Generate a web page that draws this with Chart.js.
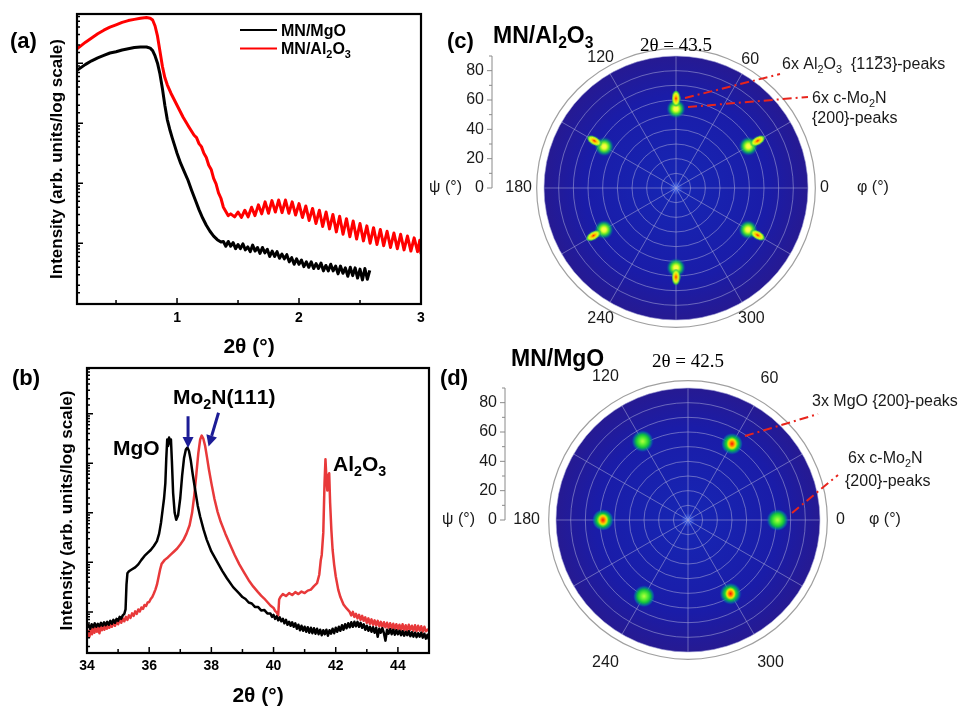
<!DOCTYPE html>
<html>
<head>
<meta charset="utf-8">
<title>MN films: XRR, XRD and pole figures</title>
<script src="https://cdn.jsdelivr.net/npm/chart.js"></script>
<style>
  html, body { margin: 0; padding: 0; background: #fff; }
  #page { position: relative; width: 965px; height: 707px; overflow: hidden; background: #fff; }
  #page canvas { position: absolute; }
</style>
</head>
<body>
<div id="page">
  <canvas id="xrrChart" width="440" height="370" style="left:0;top:0"></canvas>
  <canvas id="xrdChart" width="440" height="357" style="left:0;top:350px"></canvas>
  <canvas id="poleAl" width="545" height="350" style="left:420px;top:0"></canvas>
  <canvas id="poleMg" width="545" height="377" style="left:420px;top:330px"></canvas>
</div>
<script>
const FONT = '"Liberation Sans", Arial, Helvetica, sans-serif';
const SERIF = '"Liberation Serif", "Times New Roman", Times, serif';
Chart.defaults.font.family = FONT;
Chart.defaults.color = '#000';

// (a) reflectivity, 2theta in deg, intensity as log10
const xrrMgoX = [
  0.18,0.25,0.30,0.35,0.40,0.45,0.50,0.55,0.60,0.65,
  0.70,0.75,0.78,0.80,0.82,0.84,0.86,0.88,0.90,0.92,
  0.94,0.96,0.98,1.00,1.03,1.06,1.09,1.12,1.15,1.18,
  1.21,1.24,1.27,1.30,1.33,1.36,1.38,1.40,1.42,1.44,
  1.46,1.48,1.50,1.52,1.54,1.56,1.58,1.60,1.62,1.64,
  1.66,1.68,1.70,1.72,1.74,1.76,1.78,1.80,1.82,1.84,
  1.86,1.88,1.90,1.92,1.94,1.96,1.98,2.00,2.02,2.04,
  2.06,2.08,2.10,2.12,2.14,2.16,2.18,2.20,2.22,2.24,
  2.26,2.28,2.30,2.32,2.34,2.36,2.38,2.40,2.42,2.44,
  2.46,2.48,2.50,2.52,2.54,2.56,2.58
];
const xrrMgoLogI = [
  3.88,3.98,4.04,4.09,4.13,4.17,4.19,4.22,4.24,4.26,
  4.27,4.27,4.25,4.21,4.12,4.00,3.82,3.58,3.30,3.06,
  2.90,2.76,2.63,2.50,2.33,2.19,2.05,1.88,1.72,1.56,
  1.42,1.30,1.20,1.12,1.06,1.02,1.03,0.95,1.03,0.95,
  1.01,0.91,0.98,0.91,0.99,0.89,0.94,0.86,0.97,0.87,
  0.93,0.83,0.93,0.84,0.90,0.78,0.87,0.78,0.86,0.75,
  0.82,0.74,0.81,0.69,0.76,0.65,0.74,0.65,0.72,0.61,
  0.69,0.60,0.69,0.58,0.66,0.58,0.67,0.54,0.63,0.54,
  0.65,0.54,0.62,0.49,0.62,0.50,0.59,0.45,0.60,0.46,
  0.59,0.42,0.57,0.39,0.58,0.40,0.55
];
const xrrAlX = [
  0.18,0.25,0.30,0.35,0.40,0.45,0.50,0.55,0.60,0.65,
  0.70,0.75,0.78,0.80,0.82,0.84,0.86,0.88,0.90,0.92,
  0.95,1.00,1.05,1.10,1.14,1.16,1.18,1.20,1.22,1.24,
  1.26,1.28,1.30,1.32,1.34,1.36,1.38,1.40,1.42,1.44,
  1.472,1.500,1.528,1.556,1.583,1.611,1.639,1.667,1.694,1.722,
  1.750,1.778,1.806,1.833,1.861,1.889,1.917,1.944,1.972,2.000,
  2.028,2.056,2.083,2.111,2.139,2.167,2.194,2.222,2.250,2.278,
  2.306,2.333,2.361,2.389,2.417,2.444,2.472,2.500,2.528,2.556,
  2.583,2.611,2.639,2.667,2.694,2.722,2.750,2.778,2.806,2.833,
  2.861,2.889,2.917,2.944,2.972,2.990,3.000
];
const xrrAlLogI = [
  4.24,4.35,4.42,4.49,4.55,4.60,4.64,4.68,4.71,4.73,
  4.75,4.76,4.75,4.72,4.62,4.45,4.20,3.95,3.76,3.64,
  3.50,3.30,3.10,2.93,2.80,2.76,2.66,2.61,2.50,2.43,
  2.30,2.23,2.08,1.99,1.84,1.75,1.60,1.53,1.46,1.49,
  1.44,1.52,1.43,1.55,1.44,1.60,1.46,1.64,1.49,1.69,
  1.50,1.71,1.52,1.72,1.51,1.72,1.50,1.69,1.47,1.66,
  1.43,1.62,1.38,1.58,1.33,1.55,1.28,1.52,1.24,1.48,
  1.19,1.45,1.15,1.41,1.11,1.37,1.07,1.33,1.04,1.29,
  1.00,1.26,0.98,1.23,0.96,1.20,0.93,1.17,0.91,1.15,
  0.89,1.12,0.87,1.09,0.86,1.05,0.82
];

// (b) theta-2theta scans, log10 intensity
const xrdMgoX = [
  34.00,34.05,34.10,34.15,34.20,34.25,34.30,34.35,34.40,34.45,
  34.50,34.55,34.60,34.65,34.70,34.75,34.80,34.85,34.90,34.95,
  35.00,35.05,35.10,35.15,35.20,35.24,35.27,35.30,35.35,35.45,
  35.55,35.65,35.75,35.85,35.95,36.05,36.15,36.25,36.32,36.38,
  36.43,36.48,36.52,36.55,36.58,36.61,36.64,36.67,36.70,36.73,
  36.77,36.82,36.87,36.93,37.00,37.06,37.12,37.18,37.23,37.28,
  37.34,37.40,37.48,37.56,37.64,37.75,37.85,38.00,38.17,38.35,
  38.50,38.70,38.90,39.00,39.10,39.20,39.30,39.40,39.50,39.60,
  39.70,39.80,39.90,39.95,40.00,40.05,40.10,40.15,40.20,40.25,
  40.30,40.35,40.40,40.45,40.50,40.55,40.60,40.65,40.70,40.75,
  40.80,40.85,40.90,40.95,41.00,41.05,41.10,41.15,41.20,41.25,
  41.30,41.35,41.40,41.45,41.50,41.55,41.60,41.65,41.70,41.75,
  41.80,41.85,41.90,41.95,42.00,42.05,42.10,42.15,42.20,42.25,
  42.30,42.35,42.40,42.45,42.50,42.55,42.60,42.65,42.70,42.75,
  42.80,42.85,42.90,42.95,43.00,43.05,43.10,43.15,43.20,43.25,
  43.30,43.35,43.40,43.45,43.50,43.55,43.60,43.65,43.70,43.75,
  43.80,43.85,43.90,43.95,44.00,44.05,44.10,44.15,44.20,44.25,
  44.30,44.35,44.40,44.45,44.50,44.55,44.60,44.65,44.70,44.75,
  44.80,44.85,44.90,44.95,45.00
];
const xrdMgoLogI = [
  0.68,0.74,0.66,0.75,0.69,0.77,0.70,0.76,0.71,0.78,
  0.72,0.79,0.73,0.80,0.74,0.82,0.76,0.84,0.78,0.86,
  0.82,0.90,0.86,0.93,0.96,1.05,1.55,1.78,1.82,1.86,
  1.90,1.96,2.05,2.13,2.19,2.25,2.33,2.43,2.58,2.80,
  3.05,3.30,3.60,4.10,4.48,4.35,4.52,4.40,4.48,4.05,
  3.40,3.00,2.86,2.95,3.30,3.75,4.10,4.28,4.32,4.25,
  4.05,3.78,3.46,3.15,2.92,2.66,2.46,2.22,2.03,1.83,
  1.68,1.50,1.37,1.30,1.26,1.19,1.17,1.10,1.10,1.03,
  1.04,0.97,0.97,0.90,0.94,0.86,0.91,0.83,0.89,0.81,
  0.86,0.77,0.84,0.74,0.80,0.72,0.79,0.70,0.77,0.66,
  0.74,0.63,0.72,0.62,0.70,0.60,0.69,0.58,0.68,0.57,
  0.67,0.56,0.66,0.55,0.64,0.53,0.63,0.55,0.64,0.52,
  0.63,0.56,0.66,0.57,0.68,0.60,0.70,0.62,0.73,0.64,
  0.75,0.67,0.77,0.69,0.79,0.70,0.80,0.71,0.80,0.70,
  0.78,0.68,0.75,0.64,0.72,0.62,0.70,0.60,0.69,0.58,
  0.68,0.50,0.66,0.58,0.67,0.57,0.42,0.64,0.56,0.65,
  0.55,0.64,0.54,0.63,0.55,0.62,0.53,0.61,0.52,0.60,
  0.53,0.61,0.51,0.59,0.50,0.58,0.49,0.57,0.50,0.58,
  0.48,0.56,0.46,0.54,0.44
];
const xrdAlX = [
  34.00,34.04,34.08,34.12,34.16,34.20,34.24,34.28,34.32,34.36,
  34.40,34.44,34.48,34.52,34.56,34.60,34.64,34.68,34.72,34.76,
  34.80,34.85,34.90,34.95,35.00,35.05,35.10,35.15,35.20,35.25,
  35.30,35.35,35.40,35.45,35.50,35.55,35.60,35.65,35.70,35.75,
  35.80,35.85,35.90,35.95,36.00,36.05,36.10,36.15,36.20,36.25,
  36.30,36.35,36.40,36.50,36.60,36.70,36.80,36.90,37.00,37.10,
  37.20,37.30,37.38,37.45,37.52,37.58,37.64,37.69,37.74,37.80,
  37.86,37.92,38.00,38.10,38.20,38.30,38.45,38.60,38.75,38.90,
  39.05,39.20,39.35,39.50,39.60,39.70,39.80,39.90,40.00,40.05,
  40.10,40.15,40.18,40.22,40.30,40.40,40.50,40.60,40.70,40.80,
  40.90,41.00,41.10,41.20,41.30,41.40,41.47,41.52,41.55,41.60,
  41.64,41.67,41.70,41.73,41.76,41.79,41.82,41.86,41.90,41.95,
  42.00,42.08,42.15,42.25,42.35,42.45,42.50,42.55,42.60,42.65,
  42.70,42.75,42.80,42.85,42.90,42.95,43.00,43.05,43.10,43.15,
  43.20,43.25,43.30,43.35,43.40,43.45,43.50,43.55,43.60,43.65,
  43.70,43.75,43.80,43.85,43.90,43.95,44.00,44.05,44.10,44.15,
  44.20,44.25,44.30,44.35,44.40,44.45,44.50,44.55,44.60,44.65,
  44.70,44.75,44.80,44.85,44.90,45.00
];
const xrdAlLogI = [
  0.48,0.62,0.50,0.66,0.55,0.68,0.58,0.70,0.60,0.69,
  0.57,0.71,0.63,0.73,0.64,0.75,0.66,0.76,0.68,0.78,
  0.70,0.80,0.72,0.82,0.75,0.85,0.78,0.87,0.81,0.90,
  0.84,0.93,0.88,0.97,0.92,1.01,0.96,1.05,1.01,1.09,
  1.06,1.14,1.12,1.19,1.20,1.26,1.30,1.37,1.45,1.55,
  1.70,1.85,1.97,2.05,2.10,2.16,2.22,2.28,2.36,2.45,
  2.58,2.75,3.00,3.35,3.80,4.20,4.48,4.56,4.50,4.35,
  4.12,3.88,3.60,3.28,3.02,2.82,2.58,2.36,2.15,1.96,
  1.80,1.64,1.51,1.40,1.33,1.27,1.20,1.13,1.08,1.02,
  0.99,0.93,1.25,1.30,1.36,1.32,1.38,1.34,1.40,1.36,
  1.41,1.38,1.43,1.45,1.52,1.58,1.75,2.05,2.15,2.60,
  3.60,4.08,3.70,3.45,3.75,3.80,3.20,2.65,2.25,1.95,
  1.72,1.45,1.30,1.15,1.07,1.00,0.93,1.00,0.90,0.96,
  0.87,0.94,0.84,0.92,0.82,0.89,0.78,0.87,0.76,0.85,
  0.74,0.83,0.73,0.82,0.71,0.80,0.70,0.79,0.69,0.78,
  0.68,0.77,0.67,0.76,0.66,0.75,0.65,0.74,0.64,0.75,
  0.63,0.73,0.62,0.74,0.64,0.72,0.62,0.73,0.61,0.72,
  0.62,0.71,0.60,0.70,0.61,0.66
];

// (c), (d) pole figures: phi around, psi out from the centre
const phiLabels = [0, 330, 300, 270, 240, 210, 180, 150, 120, 90, 60, 30];
const phiTickLabels = [0, 60, 120, 180, 240, 300];
const psiTickLabels = [0, 20, 40, 60, 80];
const alMo2nPhi = [30, 90, 150, 210, 270, 330];
const alMo2nPsi = [57, 54, 56.5, 56.7, 54.3, 56.7];
const alSapphirePhi = [30, 90, 150, 210, 270, 330];
const alSapphirePsi = [64.3, 61, 64.3, 65, 60.7, 64.3];
const mgMo2nPhi = [0, 60, 120, 180, 240, 300];
const mgMo2nPsi = [61, 60, 62, 58, 60, 58];
const mgMgoPhi = [60, 180, 300];
const mgMgoPsi = [60, 58, 58];

const xrdArrows = [
  { from: [37.25, 4.95], to: [37.25, 4.31] },
  { from: [38.23, 5.02], to: [37.91, 4.34] }
];

function toPoints(xs, logs) {
  return xs.map((x, i) => ({ x: x, y: Math.pow(10, logs[i]) }));
}

// digits right after a letter become subscripts, '¯' puts a bar over the next char
function drawRich(ctx, text, x, y, size, weight, family) {
  let cx = x, bar = false;
  for (let i = 0; i < text.length; i++) {
    const ch = text[i];
    if (ch === '¯') { bar = true; continue; }
    const sub = /[0-9]/.test(ch) && i > 0 && /[A-Za-z]/.test(text[i - 1]);
    const fs = sub ? size * 0.68 : size;
    ctx.font = weight + ' ' + fs + 'px ' + family;
    ctx.fillText(ch, cx, y + (sub ? size * 0.22 : 0));
    const w = ctx.measureText(ch).width;
    if (bar) {
      ctx.fillRect(cx + 1, y - size * 0.8, w - 2, Math.max(1, size * 0.07));
      bar = false;
    }
    cx += w;
  }
  return cx - x;
}

function drawArrow(ctx, x0, y0, x1, y1) {
  const a = Math.atan2(y1 - y0, x1 - x0), head = 11, half = 5.5;
  const bx = x1 - head * Math.cos(a), by = y1 - head * Math.sin(a);
  ctx.beginPath(); ctx.moveTo(x0, y0); ctx.lineTo(bx, by); ctx.stroke();
  ctx.beginPath();
  ctx.moveTo(x1, y1);
  ctx.lineTo(bx + half * Math.sin(a), by - half * Math.cos(a));
  ctx.lineTo(bx - half * Math.sin(a), by + half * Math.cos(a));
  ctx.closePath(); ctx.fill();
}

function leader(ctx, x0, y0, x1, y1) {
  ctx.save();
  ctx.strokeStyle = '#e8241c';
  ctx.lineWidth = 2;
  ctx.setLineDash([9, 4, 2, 4]);
  ctx.beginPath(); ctx.moveTo(x0, y0); ctx.lineTo(x1, y1); ctx.stroke();
  ctx.restore();
}

// box frame plus inward ticks like the original plotting program
const frameTicks = {
  id: 'frameTicks',
  afterDatasetsDraw(chart, args, opts) {
    const { ctx, chartArea: a, scales: { x, y } } = chart;
    const step = opts.majorStep || 1;
    ctx.save();
    ctx.strokeStyle = '#000';
    ctx.lineWidth = 1.5;
    ctx.beginPath();
    x.ticks.forEach(t => {
      if (t.value <= x.min || t.value >= x.max) return;
      const px = x.getPixelForValue(t.value);
      const major = Math.abs(t.value / step - Math.round(t.value / step)) < 1e-6;
      ctx.moveTo(px, a.bottom); ctx.lineTo(px, a.bottom - (major ? 6 : 4));
    });
    y.ticks.forEach(t => {
      if (t.value <= y.min || t.value >= y.max) return;
      const py = y.getPixelForValue(t.value);
      const lg = Math.log10(t.value);
      const major = Math.abs(lg - Math.round(lg)) < 1e-6;
      ctx.moveTo(a.left, py); ctx.lineTo(a.left + (major ? 6 : 3), py);
    });
    ctx.stroke();
    ctx.lineWidth = 2.2;
    ctx.strokeRect(a.left, a.top, a.right - a.left, a.bottom - a.top);
    ctx.restore();
  }
};

const xrrNotes = {
  id: 'xrrNotes',
  afterDraw(chart) {
    const ctx = chart.ctx;
    ctx.save();
    ctx.fillStyle = '#000';
    ctx.textAlign = 'left';
    ctx.textBaseline = 'alphabetic';
    ctx.font = 'bold 22px ' + FONT;
    ctx.fillText('(a)', 10, 48);
    chart.data.datasets.forEach((ds, i) => {
      const y = 30 + i * 18.5;
      ctx.strokeStyle = ds.borderColor;
      ctx.lineWidth = 2;
      ctx.beginPath(); ctx.moveTo(240, y); ctx.lineTo(277, y); ctx.stroke();
      drawRich(ctx, ds.label, 281, y + 5.5, 16, 'bold', FONT);
    });
    ctx.restore();
  }
};

const xrdNotes = {
  id: 'xrdNotes',
  afterDraw(chart) {
    const { ctx, scales: { x, y } } = chart;
    ctx.save();
    ctx.fillStyle = '#000';
    ctx.textAlign = 'left';
    ctx.textBaseline = 'alphabetic';
    ctx.font = 'bold 22px ' + FONT;
    ctx.fillText('(b)', 12, 35);
    drawRich(ctx, 'MgO', 113, 105, 21, 'bold', FONT);
    drawRich(ctx, 'Mo2N(111)', 173, 54, 21, 'bold', FONT);
    drawRich(ctx, 'Al2O3', 333, 121, 21, 'bold', FONT);
    ctx.strokeStyle = '#1c1c96';
    ctx.fillStyle = '#1c1c96';
    ctx.lineWidth = 3;
    xrdArrows.forEach(a => {
      drawArrow(ctx,
        x.getPixelForValue(a.from[0]), y.getPixelForValue(Math.pow(10, a.from[1])),
        x.getPixelForValue(a.to[0]), y.getPixelForValue(Math.pow(10, a.to[1])));
    });
    ctx.restore();
  }
};

function lineScales(opt) {
  return {
    x: {
      type: 'linear', min: opt.xMin, max: opt.xMax,
      grid: { display: false, drawTicks: false },
      border: { display: false },
      ticks: {
        stepSize: opt.xStep, includeBounds: false, autoSkip: false, maxRotation: 0,
        padding: opt.tickPad, font: { size: 14, weight: 'bold' }, color: '#000',
        callback: v => (Math.abs(v / opt.labelStep - Math.round(v / opt.labelStep)) < 1e-6 ? v : '')
      },
      title: {
        display: true, text: '2θ (°)', color: '#000',
        font: { size: 21, weight: 'bold', lineHeight: 1 },
        padding: { top: 0, bottom: opt.xTitlePad }
      },
      afterFit: s => { s.height = opt.xHeight; }
    },
    y: {
      type: 'logarithmic', min: opt.yMin, max: opt.yMax,
      grid: { display: false, drawTicks: false },
      border: { display: false },
      ticks: { display: false },
      title: {
        display: true, text: 'Intensity (arb. units/log scale)', color: '#000',
        font: { size: 17, weight: 'bold', lineHeight: 1.2 },
        padding: { top: opt.yTitlePad, bottom: 0 }
      },
      afterFit: s => { s.width = opt.yWidth; }
    }
  };
}

new Chart(document.getElementById('xrrChart'), {
  type: 'line',
  data: {
    datasets: [
      { label: 'MN/MgO', data: toPoints(xrrMgoX, xrrMgoLogI), borderColor: '#000000', borderWidth: 3 },
      { label: 'MN/Al2O3', data: toPoints(xrrAlX, xrrAlLogI), borderColor: '#ff0000', borderWidth: 3 }
    ]
  },
  options: {
    responsive: false,
    animation: false,
    events: [],
    layout: { padding: { left: 0, top: 14, right: 19, bottom: 0 } },
    elements: { point: { radius: 0, hoverRadius: 0 }, line: { tension: 0, borderJoinStyle: 'round' } },
    plugins: { legend: { display: false }, tooltip: { enabled: false }, frameTicks: { majorStep: 1 } },
    scales: lineScales({
      xMin: 0.18, xMax: 3, xStep: 0.5, labelStep: 1, tickPad: 6, xHeight: 66, xTitlePad: 12,
      yMin: 0.973, yMax: 66000, yWidth: 77, yTitlePad: 47
    })
  },
  plugins: [frameTicks, xrrNotes]
});

new Chart(document.getElementById('xrdChart'), {
  type: 'line',
  data: {
    datasets: [
      { label: 'MN/MgO', data: toPoints(xrdMgoX, xrdMgoLogI), borderColor: '#000000', borderWidth: 2.5 },
      { label: 'MN/Al2O3', data: toPoints(xrdAlX, xrdAlLogI), borderColor: '#e8393a', borderWidth: 2.5 }
    ]
  },
  options: {
    responsive: false,
    animation: false,
    events: [],
    layout: { padding: { left: 0, top: 18, right: 11, bottom: 0 } },
    elements: { point: { radius: 0, hoverRadius: 0 }, line: { tension: 0, borderJoinStyle: 'round' } },
    plugins: { legend: { display: false }, tooltip: { enabled: false }, frameTicks: { majorStep: 2 } },
    scales: lineScales({
      xMin: 34, xMax: 45, xStep: 1, labelStep: 2, tickPad: 5, xHeight: 54, xTitlePad: 0.5,
      yMin: 1.48, yMax: 840000, yWidth: 87, yTitlePad: 57
    })
  },
  plugins: [frameTicks, xrdNotes]
});

function makeSpot(w, h, stops) {
  const c = document.createElement('canvas');
  c.width = w; c.height = h;
  const g = c.getContext('2d');
  g.translate(w / 2, h / 2);
  g.scale(w / 2, h / 2);
  const grad = g.createRadialGradient(0, 0, 0, 0, 0, 1);
  stops.forEach(s => grad.addColorStop(s[0], s[1]));
  g.fillStyle = grad;
  g.beginPath(); g.arc(0, 0, 1, 0, Math.PI * 2); g.fill();
  return c;
}

const spotImg = {
  mo2nAl: makeSpot(20, 20, [[0, '#fff55a'], [0.22, '#f0ff30'], [0.45, '#60e828'], [0.7, 'rgba(0,175,110,0.75)'], [1, 'rgba(20,40,190,0)']]),
  sapphire: makeSpot(9, 17, [[0, '#ff1a00'], [0.3, '#ffc400'], [0.6, '#e0ff20'], [0.85, 'rgba(50,215,60,0.85)'], [1, 'rgba(20,60,200,0)']]),
  mo2nMg: makeSpot(22, 22, [[0, '#b8ff40'], [0.3, '#5cf030'], [0.6, '#10c040'], [0.85, 'rgba(0,130,160,0.6)'], [1, 'rgba(20,40,200,0)']]),
  mgo: makeSpot(11, 13, [[0, '#ff1000'], [0.35, '#ff8000'], [0.65, '#ffe000'], [1, 'rgba(200,255,0,0)']])
};

function spotSeries(phis, psis) {
  return phiLabels.map(p => {
    const i = phis.indexOf(p);
    return i < 0 ? null : psis[i];
  });
}

function spotDataset(label, phis, psis, img, radial) {
  return {
    label: label,
    data: spotSeries(phis, psis),
    pointStyle: img,
    pointRadius: 6,
    pointRotation: radial ? (c => -phiLabels[c.dataIndex] - 90) : 0,
    showLine: false,
    fill: false,
    borderWidth: 0,
    borderColor: 'transparent',
    backgroundColor: 'transparent'
  };
}

function makePoleFrame(gap, lift, axisOffset) {
  return {
    id: 'poleFrame',
    beforeDraw(chart) {
      const r = chart.scales.r, ctx = chart.ctx;
      const cx = r.xCenter, cy = r.yCenter, R = r.getDistanceFromCenterForValue(90);
      ctx.save();
      const g = ctx.createRadialGradient(cx, cy, 0, cx, cy, R);
      g.addColorStop(0, '#1626b4');
      g.addColorStop(0.7, '#1a1ca8');
      g.addColorStop(1, '#261a92');
      ctx.fillStyle = g;
      ctx.beginPath(); ctx.arc(cx, cy, R, 0, Math.PI * 2); ctx.fill();
      const c = ctx.createRadialGradient(cx, cy, 0, cx, cy, 7);
      c.addColorStop(0, 'rgba(60,110,255,0.9)');
      c.addColorStop(1, 'rgba(60,110,255,0)');
      ctx.fillStyle = c;
      ctx.beginPath(); ctx.arc(cx, cy, 7, 0, Math.PI * 2); ctx.fill();
      ctx.strokeStyle = '#a0a0a0';
      ctx.lineWidth = 1.2;
      ctx.beginPath(); ctx.arc(cx, cy, r.getDistanceFromCenterForValue(95), 0, Math.PI * 2); ctx.stroke();
      ctx.restore();
    },
    afterDraw(chart) {
      const r = chart.scales.r, ctx = chart.ctx;
      const cx = r.xCenter, cy = r.yCenter, R = r.getDistanceFromCenterForValue(90);
      ctx.save();
      ctx.fillStyle = '#1a1a1a';
      ctx.font = '16px ' + FONT;
      ctx.textBaseline = 'middle';
      ctx.textAlign = 'center';
      phiTickLabels.forEach(v => {
        const i = phiLabels.indexOf(v);
        const w = ctx.measureText(String(v)).width;
        const a = r.getPointPosition(i, 1).angle;
        const d = R + gap + Math.abs(Math.cos(a)) * w / 2 + Math.abs(Math.sin(a)) * lift;
        const p = r.getPointPosition(i, d);
        ctx.fillText(String(v), p.x, p.y);
      });
      ctx.textAlign = 'left';
      ctx.fillText('φ (°)', cx + 181, cy);

      const ax = cx - axisOffset;
      ctx.strokeStyle = '#8a8a8a';
      ctx.lineWidth = 1;
      ctx.beginPath();
      ctx.moveTo(ax, cy); ctx.lineTo(ax, cy - R);
      r.ticks.forEach(t => {
        const py = cy - r.getDistanceFromCenterForValue(t.value);
        ctx.moveTo(ax, py); ctx.lineTo(ax - (t.value % 20 === 0 ? 5 : 3), py);
      });
      ctx.stroke();
      ctx.textAlign = 'right';
      psiTickLabels.forEach(v => ctx.fillText(String(v), ax - 8, cy - r.getDistanceFromCenterForValue(v)));
      ctx.fillText('ψ (°)', ax - 30, cy);
      ctx.restore();
    }
  };
}

function poleChart(canvasId, padding, datasets, frame, notes) {
  return new Chart(document.getElementById(canvasId), {
    type: 'radar',
    data: { labels: phiLabels, datasets: datasets },
    options: {
      responsive: false,
      animation: false,
      events: [],
      layout: { padding: padding },
      plugins: { legend: { display: false }, tooltip: { enabled: false } },
      scales: {
        r: {
          min: 0, max: 90, startAngle: 90,
          ticks: { display: false, stepSize: 10 },
          pointLabels: { display: false },
          grid: { circular: true, color: 'rgba(165,165,215,0.55)', lineWidth: 1 },
          angleLines: { color: 'rgba(165,165,215,0.55)', lineWidth: 1 }
        }
      }
    },
    plugins: [frame, { id: 'poleNotes', afterDraw: notes }]
  });
}

poleChart('poleAl', { left: 124, top: 56, right: 156, bottom: 29 }, [
  spotDataset('6x Al2O3 {11-23}-peaks', alSapphirePhi, alSapphirePsi, spotImg.sapphire, true),
  spotDataset('6x c-Mo2N {200}-peaks', alMo2nPhi, alMo2nPsi, spotImg.mo2nAl, false)
], makePoleFrame(12, 0, 184), chart => {
  const ctx = chart.ctx;
  ctx.save();
  ctx.fillStyle = '#000';
  ctx.textAlign = 'left';
  ctx.textBaseline = 'alphabetic';
  ctx.font = 'bold 22px ' + FONT;
  ctx.fillText('(c)', 27, 48);
  drawRich(ctx, 'MN/Al2O3', 73, 43, 23, 'bold', FONT);
  ctx.font = '19px ' + SERIF;
  ctx.textAlign = 'center';
  ctx.fillText('2θ = 43.5', chart.scales.r.xCenter, 51);
  ctx.textAlign = 'left';
  ctx.fillStyle = '#1a1a1a';
  drawRich(ctx, '6x Al2O3  {11¯23}-peaks', 362, 69, 16, 'normal', FONT);
  drawRich(ctx, '6x c-Mo2N', 392, 103, 16, 'normal', FONT);
  drawRich(ctx, '{200}-peaks', 392, 123, 16, 'normal', FONT);
  leader(ctx, 265, 98, 360, 74);
  leader(ctx, 268, 107, 388, 97);
  ctx.restore();
});

poleChart('poleMg', { left: 136, top: 57, right: 144, bottom: 54 }, [
  spotDataset('3x MgO {200}-peaks', mgMgoPhi, mgMgoPsi, spotImg.mgo, false),
  spotDataset('6x c-Mo2N {200}-peaks', mgMo2nPhi, mgMo2nPsi, spotImg.mo2nMg, false)
], makePoleFrame(16, 12, 183), chart => {
  const ctx = chart.ctx;
  ctx.save();
  ctx.fillStyle = '#000';
  ctx.textAlign = 'left';
  ctx.textBaseline = 'alphabetic';
  ctx.font = 'bold 22px ' + FONT;
  ctx.fillText('(d)', 20, 55);
  drawRich(ctx, 'MN/MgO', 91, 36, 23, 'bold', FONT);
  ctx.font = '19px ' + SERIF;
  ctx.textAlign = 'center';
  ctx.fillText('2θ = 42.5', chart.scales.r.xCenter, 37);
  ctx.textAlign = 'left';
  ctx.fillStyle = '#1a1a1a';
  drawRich(ctx, '3x MgO {200}-peaks', 392, 76, 16, 'normal', FONT);
  drawRich(ctx, '6x c-Mo2N', 428, 133, 16, 'normal', FONT);
  drawRich(ctx, '{200}-peaks', 425, 156, 16, 'normal', FONT);
  leader(ctx, 325, 106, 398, 84);
  leader(ctx, 372, 183, 418, 145);
  ctx.restore();
});
</script>
</body>
</html>
